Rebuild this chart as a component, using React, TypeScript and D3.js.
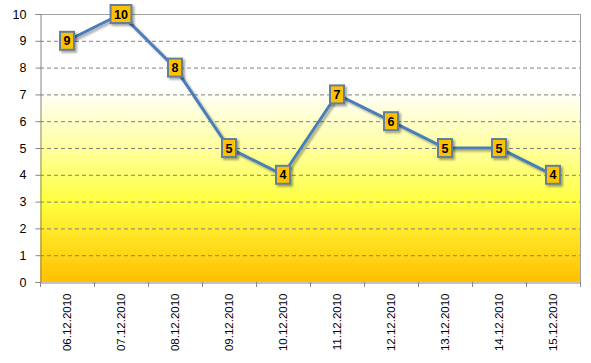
import React, { useRef, useEffect } from 'react';
import * as d3 from 'd3';

const dates = [
  '06.12.2010', '07.12.2010', '08.12.2010', '09.12.2010', '10.12.2010',
  '11.12.2010', '12.12.2010', '13.12.2010', '14.12.2010', '15.12.2010',
];
const values = [9, 10, 8, 5, 4, 7, 6, 5, 5, 4];
const yTicks = [0, 1, 2, 3, 4, 5, 6, 7, 8, 9, 10];

const FONT = 'Liberation Sans, Arial, sans-serif';

export default function App() {
  const ref = useRef<SVGSVGElement>(null);

  useEffect(() => {
    if (!ref.current) return;
    const svg = d3.select(ref.current);
    svg.selectAll('*').remove();

    const left = 40, right = 580, top = 14, bottom = 282;

    const x = d3.scaleBand().domain(dates).range([left, right]);
    const y = d3.scaleLinear().domain([0, 10]).range([bottom, top]);

    // background gradient
    const defs = svg.append('defs');
    const grad = defs.append('linearGradient')
      .attr('id', 'bg').attr('x1', 0).attr('y1', 0).attr('x2', 0).attr('y2', 1);
    grad.append('stop').attr('offset', '0%').attr('stop-color', '#ffffff');
    grad.append('stop').attr('offset', '28%').attr('stop-color', '#ffffff');
    grad.append('stop').attr('offset', '50%').attr('stop-color', '#ffffa0');
    grad.append('stop').attr('offset', '70%').attr('stop-color', '#ffff40');
    grad.append('stop').attr('offset', '100%').attr('stop-color', '#ffc000');

    const shadow = defs.append('filter').attr('id', 'sh')
      .attr('x', '-50%').attr('y', '-50%').attr('width', '200%').attr('height', '200%');
    shadow.append('feDropShadow')
      .attr('dx', 2).attr('dy', 2).attr('stdDeviation', 1.2)
      .attr('flood-color', '#000').attr('flood-opacity', 0.35);

    svg.append('rect')
      .attr('x', left).attr('y', top)
      .attr('width', right - left).attr('height', bottom - top)
      .attr('fill', 'url(#bg)');

    // grid
    svg.append('g')
      .selectAll('line')
      .data(yTicks.filter(d => d > 0 && d < 10))
      .enter()
      .append('line')
      .attr('x1', left).attr('x2', right)
      .attr('y1', d => y(d) + 0.5).attr('y2', d => y(d) + 0.5)
      .attr('stroke', '#808080')
      .attr('stroke-dasharray', '4,3');

    // plot border top/right
    svg.append('path')
      .attr('d', `M${left},${top + 0.5}H${right + 0.5}V${bottom}`)
      .attr('fill', 'none').attr('stroke', '#a0a0a0');

    // y axis
    const yAxis = svg.append('g')
      .attr('transform', `translate(${left + 0.5},0)`)
      .call(d3.axisLeft(y).tickValues(yTicks).tickSize(5).tickPadding(9).tickFormat(d3.format('d')));
    yAxis.select('.domain').attr('stroke', '#868686');
    yAxis.selectAll('.tick line').attr('stroke', '#868686');
    yAxis.selectAll('text')
      .attr('font-family', FONT)
      .attr('font-size', 12.5).attr('fill', '#000');

    // x axis
    const xAxis = svg.append('g')
      .attr('transform', `translate(0,${bottom + 0.5})`)
      .call(d3.axisBottom(x).tickSize(0).tickFormat(d => d as string));
    xAxis.select('.domain').attr('stroke', '#868686');
    xAxis.selectAll('.tick text')
      .attr('font-family', FONT)
      .attr('font-size', 11.5).attr('fill', '#000')
      .attr('transform', 'rotate(-90)')
      .attr('text-anchor', 'end')
      .attr('x', -11).attr('y', 0).attr('dy', '0.35em');
    svg.append('g')
      .selectAll('line')
      .data(d3.range(dates.length + 1))
      .enter()
      .append('line')
      .attr('x1', i => left + i * x.bandwidth() + 0.5)
      .attr('x2', i => left + i * x.bandwidth() + 0.5)
      .attr('y1', bottom).attr('y2', bottom + 5)
      .attr('stroke', '#868686');

    const cx = (i: number) => (x(dates[i]) || 0) + x.bandwidth() / 2;

    // line
    const line = d3.line<number>().x((_, i) => cx(i)).y(d => y(d));
    svg.append('path')
      .datum(values)
      .attr('d', line)
      .attr('fill', 'none')
      .attr('stroke', '#4a7ebb')
      .attr('stroke-width', 3)
      .attr('filter', 'url(#sh)');

    // data labels in boxes
    const m = svg.append('g').selectAll('g')
      .data(values)
      .enter()
      .append('g')
      .attr('transform', (d, i) => `translate(${cx(i)},${y(d)})`);
    const box = m.append('rect')
      .attr('fill', '#ffc000')
      .attr('stroke', '#62809a')
      .attr('stroke-width', 2)
      .attr('filter', 'url(#sh)');
    const txt = m.append('text')
      .attr('text-anchor', 'middle')
      .attr('dy', '0.36em')
      .attr('font-family', FONT)
      .attr('font-size', 12.5).attr('font-weight', 'bold')
      .attr('fill', '#000')
      .text(d => d);
    txt.each(function (_, i) {
      const w = (this as SVGTextElement).getComputedTextLength();
      const bw = Math.max(14, w + 7);
      d3.select(box.nodes()[i])
        .attr('x', -bw / 2).attr('y', -9)
        .attr('width', bw).attr('height', 18);
    });
  }, []);

  return (
    <svg ref={ref} width={591} height={363}
      style={{ position: 'absolute', left: 0, top: 0, background: '#fff' }} />
  );
}
